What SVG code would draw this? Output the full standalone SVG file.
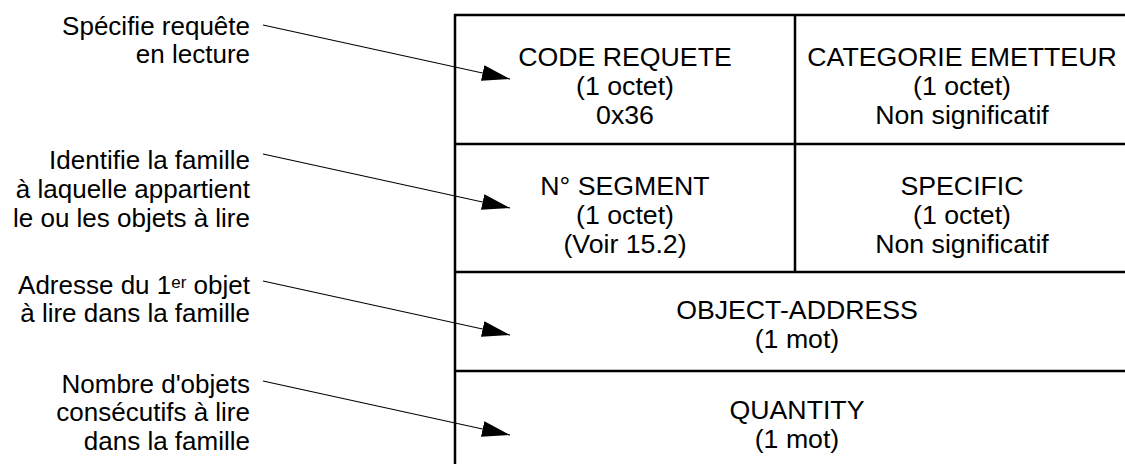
<svg xmlns="http://www.w3.org/2000/svg" width="1125" height="464" viewBox="0 0 1125 464">
<style>
text{font-family:"Liberation Sans",Arial,sans-serif;font-size:26.7px;fill:#000}
.l{text-anchor:end;font-size:26px}
.c{text-anchor:middle}
.t{stroke:#000;stroke-width:2.5;fill:none}
.a{stroke:#000;stroke-width:1.2;fill:none;marker-end:url(#ah)}
</style>
<defs>
<marker id="ah" markerUnits="userSpaceOnUse" markerWidth="30" markerHeight="18" refX="28" refY="8" orient="auto" viewBox="0 0 30 18">
<path d="M0,0 L28,8 L0,16 z" fill="#000"/>
</marker>
</defs>
<rect width="1125" height="464" fill="#fff"/>
<g id="table">
<path class="t" d="M455,464 V15 H1125 M455,144 H1125 M455,272 H1125 M455,371 H1125 M795,15 V272"/>
</g>
<g id="cell-code">
<text class="c" x="625" y="66">CODE REQUETE</text>
<text class="c" x="625" y="95">(1 octet)</text>
<text class="c" x="625" y="124">0x36</text>
</g>
<g id="cell-categorie">
<text class="c" x="962" y="66">CATEGORIE EMETTEUR</text>
<text class="c" x="962" y="95">(1 octet)</text>
<text class="c" x="962" y="124">Non significatif</text>
</g>
<g id="cell-segment">
<text class="c" x="625" y="195">N° SEGMENT</text>
<text class="c" x="625" y="224">(1 octet)</text>
<text class="c" x="625" y="253">(Voir 15.2)</text>
</g>
<g id="cell-specific">
<text class="c" x="962" y="195">SPECIFIC</text>
<text class="c" x="962" y="224">(1 octet)</text>
<text class="c" x="962" y="253">Non significatif</text>
</g>
<g id="cell-address">
<text class="c" x="797" y="319">OBJECT-ADDRESS</text>
<text class="c" x="797" y="348">(1 mot)</text>
</g>
<g id="cell-quantity">
<text class="c" x="797" y="419">QUANTITY</text>
<text class="c" x="797" y="448">(1 mot)</text>
</g>
<g id="label-1">
<text class="l" x="250" y="35">Spécifie requête</text>
<text class="l" x="250" y="63">en lecture</text>
</g>
<g id="label-2">
<text class="l" x="250" y="169">Identifie la famille</text>
<text class="l" x="250" y="198">à laquelle appartient</text>
<text class="l" x="250" y="227">le ou les objets à lire</text>
</g>
<g id="label-3">
<text class="l" x="250" y="294">Adresse du 1<tspan font-size="17" dy="-6">er</tspan><tspan dy="6"> objet</tspan></text>
<text class="l" x="250" y="322">à lire dans la famille</text>
</g>
<g id="label-4">
<text class="l" x="250" y="393">Nombre d'objets</text>
<text class="l" x="250" y="421">consécutifs à lire</text>
<text class="l" x="250" y="450">dans la famille</text>
</g>
<g id="connectors">
<path class="a" d="M263,25 L510,79"/>
<path class="a" d="M263,154 L510,208"/>
<path class="a" d="M263,281 L510,335"/>
<path class="a" d="M263,381 L510,435"/>
</g>
</svg>
